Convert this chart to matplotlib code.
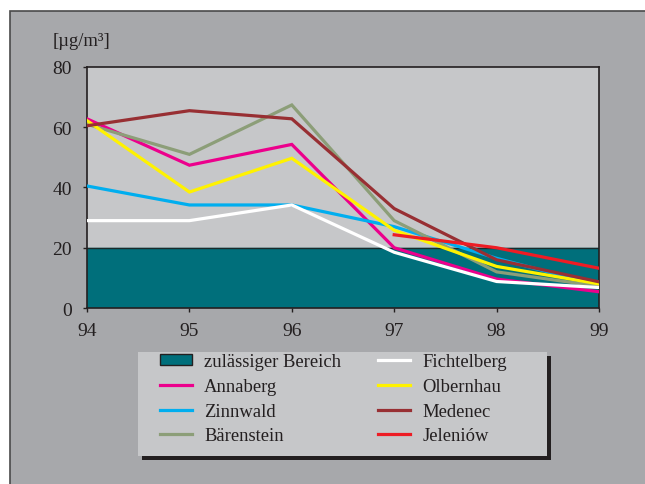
import matplotlib.pyplot as plt
import numpy as np
from matplotlib.patches import Rectangle

years = [94, 95, 96, 97, 98, 99]
limit = 20
annaberg = [62.8, 47.4, 54.3, 20.0, 9.6, 5.4]
zinnwald = [40.5, 34.2, 34.2, 27.0, 16.5, 7.5]
baerenstein = [61.0, 51.0, 67.4, 29.0, 12.0, 7.2]
fichtelberg = [29.0, 29.0, 34.2, 18.5, 8.8, 6.8]
olbernhau = [62.2, 38.5, 49.7, 25.8, 13.8, 8.0]
medenec = [60.5, 65.5, 62.8, 33.0, 16.0, 8.7]
jeleniow = [np.nan, np.nan, np.nan, 24.3, 20.0, 13.2]

series = [
    ('Annaberg', annaberg, '#ec008c'),
    ('Zinnwald', zinnwald, '#00aeef'),
    ('Bärenstein', baerenstein, '#8c9e78'),
    ('Fichtelberg', fichtelberg, '#ffffff'),
    ('Olbernhau', olbernhau, '#fff200'),
    ('Medenec', medenec, '#982f33'),
    ('Jeleniów', jeleniow, '#ed1c24'),
]

plt.rcParams['font.family'] = ['Liberation Serif', 'DejaVu Serif']
text_col = '#231f20'
fs = 13.4

fig = plt.figure(figsize=(6.45, 4.85), dpi=100)
fig.patch.set_facecolor('white')
W, H = 645, 485


def px_rect(x0, y0, x1, y1, **kw):
    # rectangle given in picture pixels (top-left origin)
    return Rectangle((x0 / W, 1 - y1 / H), (x1 - x0) / W, (y1 - y0) / H,
                     transform=fig.transFigure, **kw)


# outer grey panel
fig.patches.append(px_rect(9.5, 12, 700, 600, facecolor='#a7a8ab', edgecolor='#4a4a4a',
                           linewidth=1.2, zorder=-2))
# legend box with shadow
fig.patches.append(px_rect(142, 357, 551, 461, facecolor='#231f20', edgecolor='none', zorder=-1))
fig.patches.append(px_rect(138, 353, 547, 457, facecolor='#c6c7c9', edgecolor='none', zorder=-0.5))

ax = fig.add_axes([87 / W, (485 - 309) / H, 512 / W, 241 / H])
ax.set_zorder(1)
ax.set_facecolor('#c6c7c9')
ax.axhspan(0, limit, color='#006f7b', zorder=1)
ax.axhline(limit, color='#1a2a2a', linewidth=1, zorder=1.5)

handles = [Rectangle((0, 0), 1, 1, facecolor='#006f7b', edgecolor=text_col, linewidth=1)]
labels = ['zulässiger Bereich']
lines = {}
for name, vals, col in series:
    ln, = ax.plot(years, vals, color=col, linewidth=2.3, zorder=3, solid_joinstyle='miter')
    lines[name] = ln

for n in ['Annaberg', 'Zinnwald', 'Bärenstein', 'Fichtelberg', 'Olbernhau', 'Medenec', 'Jeleniów']:
    handles.append(lines[n])
    labels.append(n)

ax.set_xlim(94, 99)
ax.set_ylim(0, 80)
ax.set_xticks(years)
ax.set_yticks([0, 20, 40, 60, 80])
ax.tick_params(direction='out', length=3, width=1, colors=text_col, labelsize=14)
ax.tick_params(axis='y', pad=7.8)
ax.tick_params(axis='x', pad=7)
for sp in ax.spines.values():
    sp.set_color(text_col)
    sp.set_linewidth(1.2)

fig.text(53 / W, 1 - 41 / H, '[µg/m³]', fontsize=fs, color=text_col, ha='left', va='center')

leg = fig.legend(handles, labels, ncol=2, loc='upper left',
                 bbox_to_anchor=(160 / W, 1 - 354 / H),
                 frameon=False, fontsize=fs,
                 handlelength=1.72, handleheight=0.55, handletextpad=0.65, labelspacing=0.42,
                 borderaxespad=0, borderpad=0, columnspacing=2.0)
for t in leg.get_texts():
    t.set_color(text_col)
leg.set_zorder(5)

fig.savefig('out.png', dpi=100)
